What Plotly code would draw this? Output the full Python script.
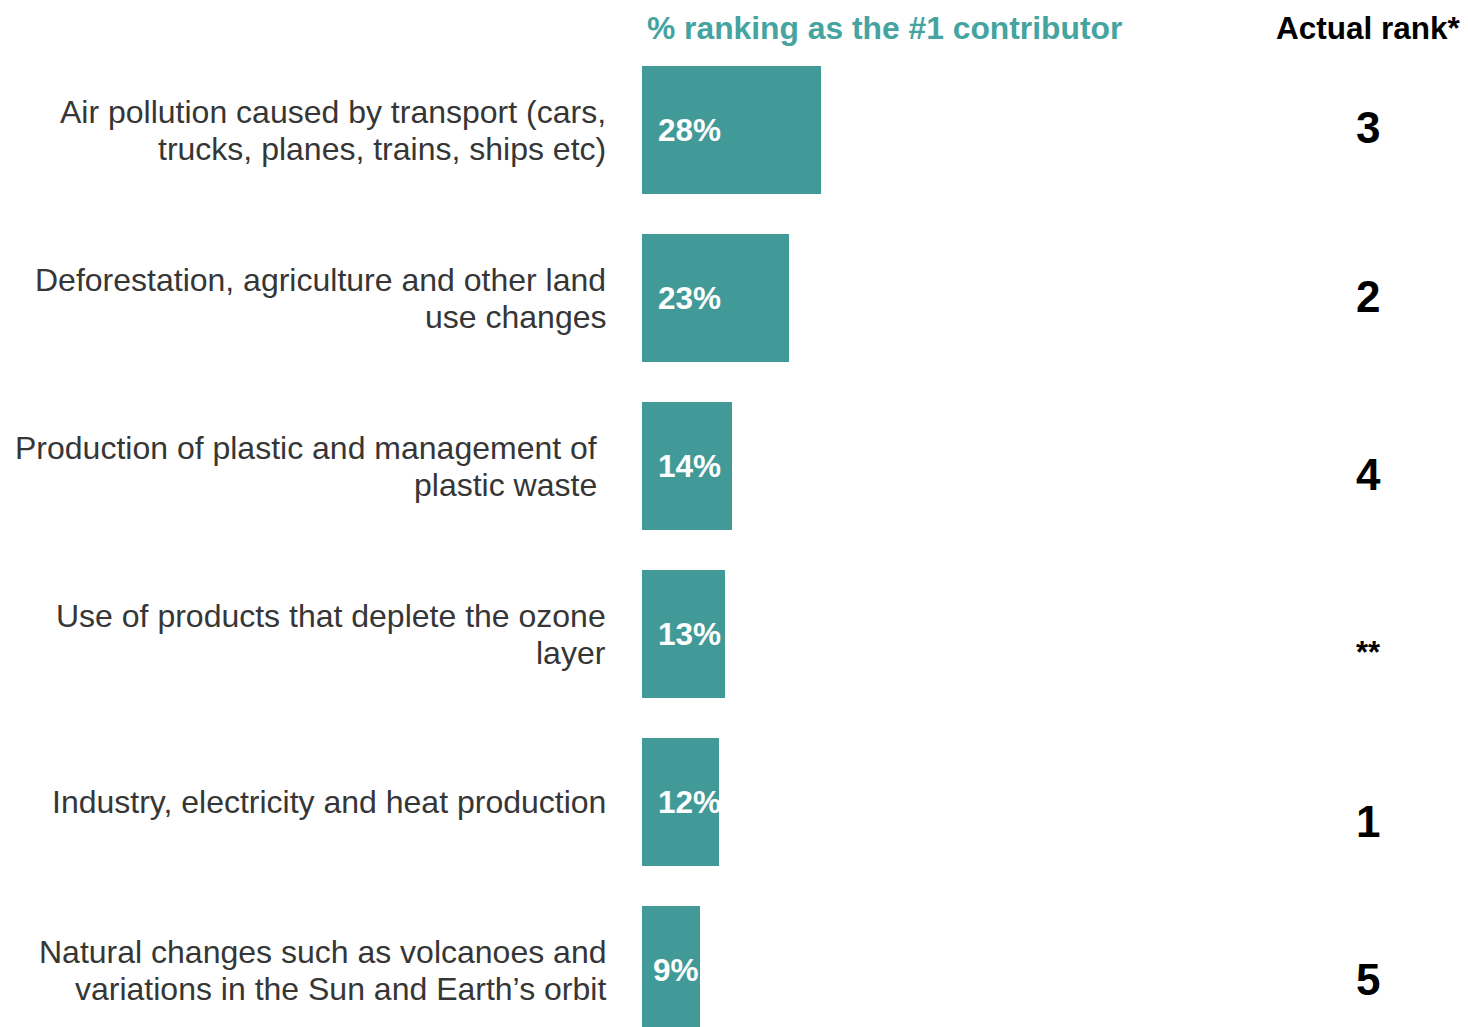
import plotly.graph_objects as go

# ---- data ----
categories = [
    "Air pollution caused by transport (cars,<br>trucks, planes, trains, ships etc)",
    "Deforestation, agriculture and other land<br>use changes",
    "Production of plastic and management of<br>plastic waste",
    "Use of products that deplete the ozone<br>layer",
    "Industry, electricity and heat production",
    "Natural changes such as volcanoes and<br>variations in the Sun and Earth\u2019s orbit",
]
pct_first = [28, 23, 14, 13, 12, 9]
actual_rank = ["3", "2", "4", "**", "1", "5"]
title_left = "% ranking as the #1 contributor"
title_right = "Actual rank*"

# ---- layout constants (screen pixels) ----
OFF = 8                      # browser body margin
W, H = 1468 - OFF, 1027 - OFF
SPL, SPR = 642, 1282         # plot area x on screen (0..100 %)
SPT, SPB = 46, 1027          # plot area y on screen
BAR_COLOR = "#429A98"
TITLE_COLOR = "#45A3A0"
FONT = "Liberation Sans, Arial, sans-serif"
LABEL_SIZE = 32
label_right = [605, 605, 596, 605, 605, 605]
line_half_gap = 18.5
rank_y = [127, 296, 474, 652, 821, 979]
value_left = [658, 658, 658, 658, 658, 653]
PX_PER_Y = 168
Y0 = 130


def xp(px):
    return (px - SPL) / (SPR - SPL)


def yp(py):
    return (SPB - py) / (SPB - SPT)


def xd(px):
    return (px - SPL) / (SPR - SPL) * 100


ys = list(range(len(categories)))

fig = go.Figure(go.Bar(
    x=pct_first, y=ys, orientation="h",
    marker=dict(color=BAR_COLOR, line=dict(width=0)),
    width=128 / PX_PER_Y, hoverinfo="skip",
))

ann = []
for i, (cat, v, r) in enumerate(zip(categories, pct_first, actual_rank)):
    lines = cat.split("<br>")
    n = len(lines)
    for k, ln in enumerate(lines):
        off = (k - (n - 1) / 2) * 2 * line_half_gap / PX_PER_Y
        ann.append(dict(x=xp(label_right[i] + 3), xref="paper", y=i + off, yref="y",
                        text=ln, showarrow=False, xanchor="right", yanchor="middle",
                        align="right",
                        font=dict(family=FONT, size=LABEL_SIZE, color="#363636")))
    ann.append(dict(x=xd(value_left[i] - 2), xref="x", y=i, yref="y", text=f"<b>{v}%</b>",
                    showarrow=False, xanchor="left", yanchor="middle",
                    font=dict(family=FONT, size=31.5, color="white")))
    size = 44 if r != "**" else 31
    ann.append(dict(x=xp(1368), xref="paper", y=(rank_y[i] - Y0) / PX_PER_Y, yref="y",
                    text=f"<b>{r}</b>", showarrow=False, xanchor="center", yanchor="middle",
                    font=dict(family=FONT, size=size, color="black")))

ann.append(dict(x=xp(645), xref="paper", y=yp(28), yref="paper", text=f"<b>{title_left}</b>",
                showarrow=False, xanchor="left", yanchor="middle",
                font=dict(family=FONT, size=31.8, color=TITLE_COLOR)))
ann.append(dict(x=xp(1368), xref="paper", y=yp(28), yref="paper", text=f"<b>{title_right}</b>",
                showarrow=False, xanchor="center", yanchor="middle",
                font=dict(family=FONT, size=31.5, color="black")))

fig.update_layout(
    width=W, height=H,
    margin=dict(l=SPL - OFF, r=W - (SPR - OFF), t=SPT - OFF, b=H - (SPB - OFF), pad=0),
    paper_bgcolor="white", plot_bgcolor="white",
    showlegend=False,
    xaxis=dict(range=[0, 100], visible=False, fixedrange=True),
    yaxis=dict(range=[(SPB - Y0) / PX_PER_Y, -(Y0 - SPT) / PX_PER_Y],
               visible=False, fixedrange=True),
    annotations=ann,
    bargap=0,
)

fig.write_html("out.html", config={"displayModeBar": False})
